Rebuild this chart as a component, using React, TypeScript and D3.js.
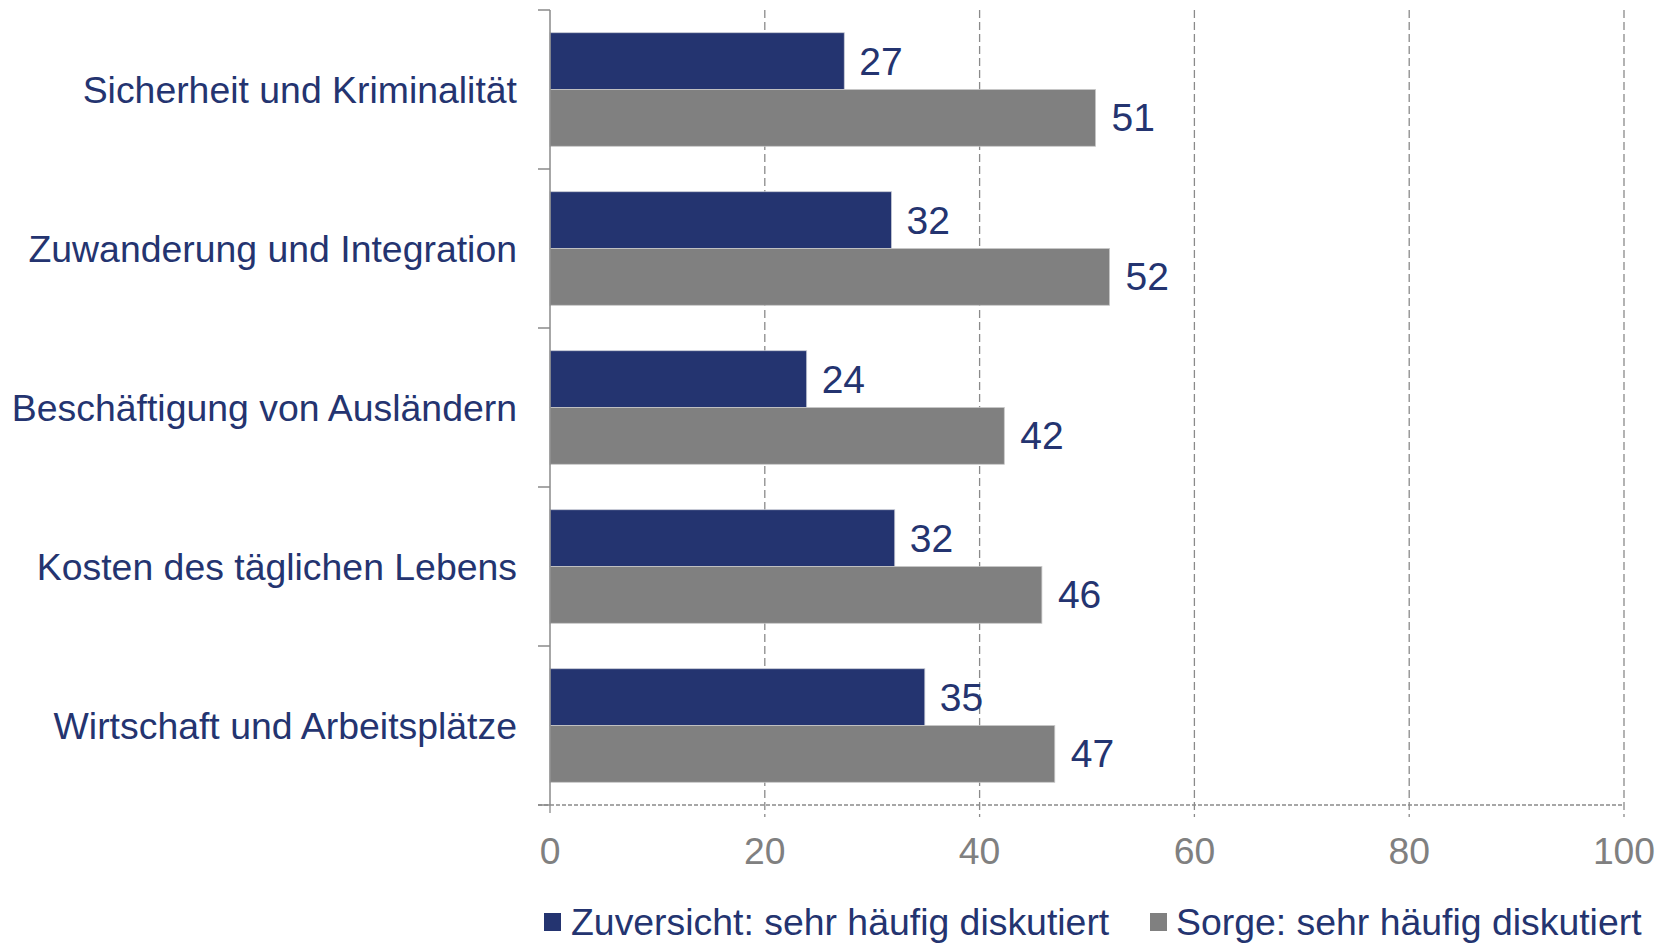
import React from "react";
import * as d3 from "d3";

const categories = [
  "Sicherheit und Kriminalität",
  "Zuwanderung und Integration",
  "Beschäftigung von Ausländern",
  "Kosten des täglichen Lebens",
  "Wirtschaft und Arbeitsplätze",
];
const zuversicht = [27.4, 31.8, 23.9, 32.1, 34.9];
const sorge = [50.8, 52.1, 42.3, 45.8, 47.0];
const seriesNames = ["Zuversicht: sehr häufig diskutiert", "Sorge: sehr häufig diskutiert"];
const xTicks = [0, 20, 40, 60, 80, 100];

const W = 1669;
const H = 943;
const NAVY = "#243470";
const GRAY = "#808080";
const FONT = "'Liberation Sans', Arial, sans-serif";

export default function App() {
  const left = 550;
  const right = 1624;
  const top = 10;
  const bottom = 805;
  const x = d3.scaleLinear().domain([0, 100]).range([left, right]);
  const y = d3.scaleBand<string>().domain(categories).range([top, bottom]).paddingInner(0).paddingOuter(0);
  const bw = y.bandwidth();
  const inner = d3.scaleBand<string>().domain(["z", "s"]).range([0, bw]).paddingInner(0).paddingOuter(0.4);
  const barH = inner.bandwidth();
  const boundaries = categories.map((c) => y(c)!).concat([bottom]);

  return (
    <svg
      width={W}
      height={H}
      style={{ position: "absolute", left: 0, top: 0, background: "#fff" }}
      fontFamily={FONT}
    >
      {/* gridlines */}
      {xTicks.filter((t) => t > 0).map((t) => (
        <line key={"g" + t} x1={x(t)} x2={x(t)} y1={top} y2={bottom + 12} stroke="#8a8a8a" strokeWidth={1.3} strokeDasharray="8,4" />
      ))}
      {/* bars */}
      {categories.map((c, i) => (
        <g key={c}>
          <rect x={x(0)} y={y(c)! + inner("z")!} width={x(zuversicht[i]) - x(0)} height={barH} fill={NAVY} stroke="#c8cbd6" strokeWidth={0.8} />
          <rect x={x(0)} y={y(c)! + inner("s")!} width={x(sorge[i]) - x(0)} height={barH} fill={GRAY} stroke="#c8c8c8" strokeWidth={0.8} />
          <text x={x(zuversicht[i]) + 15} y={y(c)! + inner("z")! + barH / 2} dominantBaseline="central" fontSize={39} fill={NAVY}>
            {Math.round(zuversicht[i])}
          </text>
          <text x={x(sorge[i]) + 16} y={y(c)! + inner("s")! + barH / 2} dominantBaseline="central" fontSize={39} fill={NAVY}>
            {Math.round(sorge[i])}
          </text>
          <text x={517} y={y(c)! + bw / 2} dominantBaseline="central" textAnchor="end" fontSize={37.4} fill={NAVY}>
            {c}
          </text>
        </g>
      ))}
      {/* y axis */}
      <line x1={left} x2={left} y1={top} y2={bottom} stroke="#8a8a8a" strokeWidth={1.5} />
      {boundaries.map((b, i) => (
        <line key={"yt" + i} x1={538} x2={left} y1={b} y2={b} stroke="#8a8a8a" strokeWidth={1.5} />
      ))}
      {/* x axis */}
      <line x1={538} x2={right} y1={bottom} y2={bottom} stroke="#8a8a8a" strokeWidth={1.5} strokeDasharray="4,2" />
      <line x1={left} x2={left} y1={bottom} y2={bottom + 12} stroke="#8a8a8a" strokeWidth={1.3} strokeDasharray="8,4" />
      {xTicks.map((t) => (
        <text key={"xt" + t} x={x(t)} y={851} textAnchor="middle" dominantBaseline="central" fontSize={37.3} fill={GRAY}>
          {t}
        </text>
      ))}
      {/* legend */}
      <rect x={544} y={913} width={17} height={18} fill={NAVY} />
      <text x={571} y={922} dominantBaseline="central" fontSize={37.4} fill={NAVY}>{seriesNames[0]}</text>
      <rect x={1150} y={913} width={17} height={18} fill={GRAY} />
      <text x={1176} y={922} dominantBaseline="central" fontSize={37.4} fill={NAVY}>{seriesNames[1]}</text>
    </svg>
  );
}
